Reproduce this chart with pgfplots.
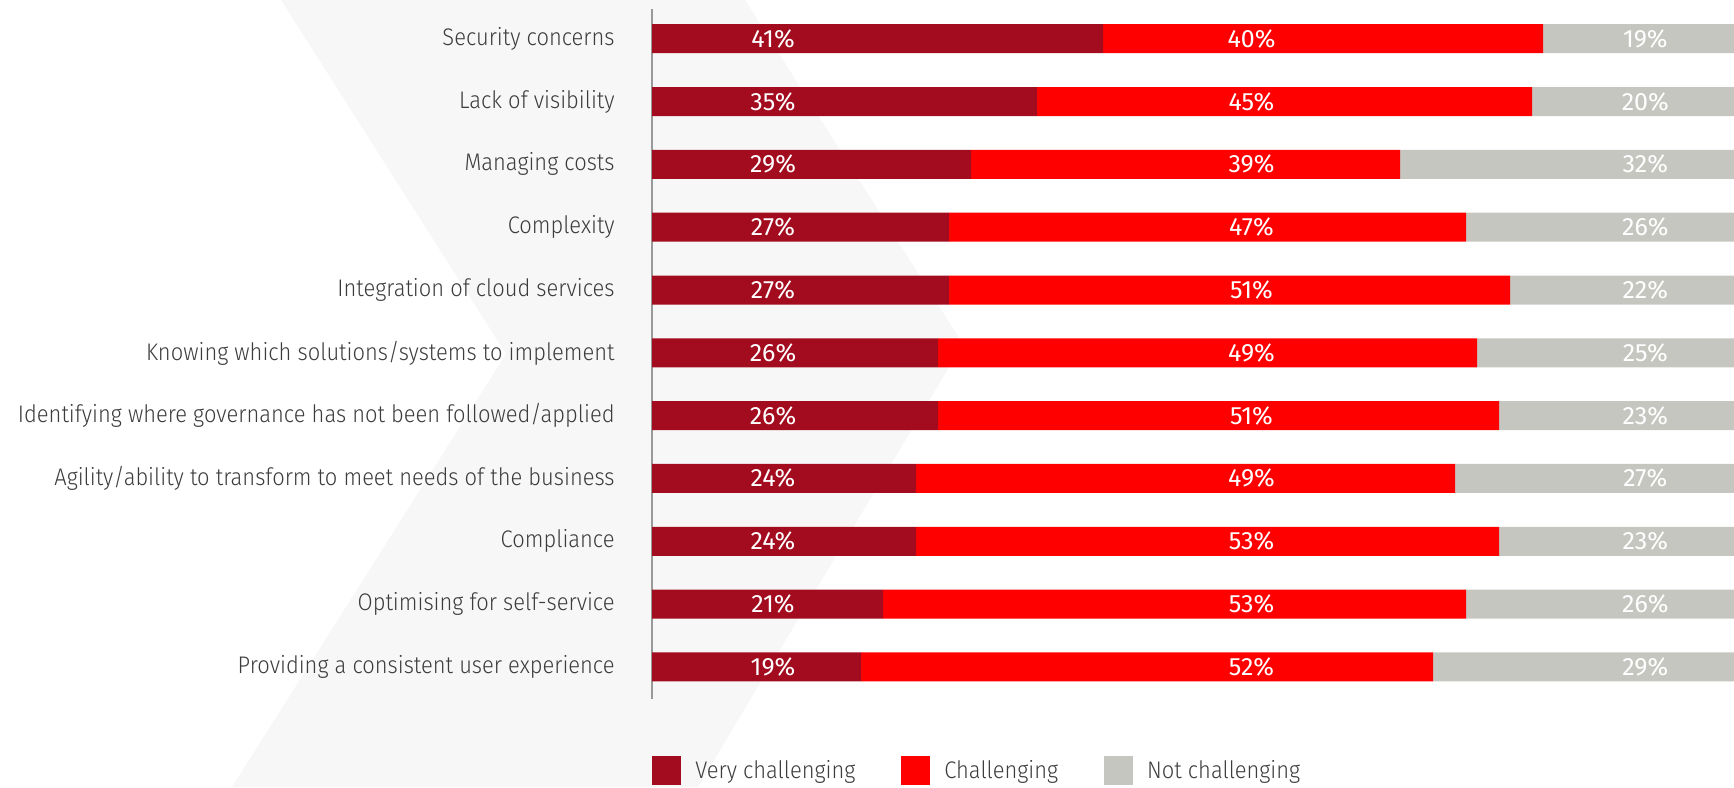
\documentclass[border=0pt]{standalone}
\usepackage{fontspec}
\IfFontExistsTF{Fira Sans Light}{\setmainfont[FakeStretch=0.913]{Fira Sans Light}}{\setmainfont[FakeStretch=0.913]{Fira Sans}}
\newfontfamily\pctfont{Fira Sans}
\usepackage{pgfplots}
\usepackage{pgfplotstable}
\pgfplotsset{compat=1.18}
\definecolor{vc}{HTML}{A20C1E}
\definecolor{ch}{HTML}{FF0000}
\definecolor{nc}{HTML}{C6C6C0}
\definecolor{bgc}{HTML}{F7F7F7}
\definecolor{lab}{HTML}{3C3C3C}

\pgfplotstableread{
y a b c
0 41 40 19
1 35 45 20
2 29 39 32
3 27 47 26
4 27 51 22
5 26 49 25
6 26 51 23
7 24 49 27
8 24 53 23
9 21 53 26
10 19 52 29
}\data

\begin{document}
\begin{tikzpicture}
\useasboundingbox (0,0) rectangle (867pt,393.5pt);
\fill[bgc] (140.5pt,393.5pt) -- (372.5pt,393.5pt) -- (481.5pt,221.5pt) -- (349pt,0pt) -- (116pt,0pt) -- (253pt,216.5pt) -- cycle;
\pgfplotsset{common/.style={at={(326pt,44pt)}, anchor=south west, width=550pt, height=345pt, scale only axis, xmin=0, xmax=100, ymin=-0.473, ymax=10.51, y dir=reverse, clip=false}}
\begin{axis}[common,
  xbar stacked, bar width=14.5pt,
  axis x line=none, axis y line*=left,
  y axis line style={draw=gray!80, line width=0.6pt},
  xtick=\empty,
  ytick={0,...,10},
  yticklabels={Security concerns, Lack of visibility, Managing costs, Complexity, Integration of cloud services, Knowing which solutions/systems to implement, Identifying where governance has not been followed/applied, Agility/ability to transform to meet needs of the business, Compliance, Optimising for self-service, Providing a consistent user experience},
  major tick length=0pt,
  yticklabel style={font=\fontsize{12}{14}\selectfont, text=lab, anchor=east, inner sep=0pt, xshift=-18.5pt},
  legend image code/.code={\fill[#1] (0pt,-7.25pt) rectangle (14.5pt,7.25pt);},
  legend style={draw=none, fill=none, inner sep=0pt, at={(0,-0.1036)}, anchor=west, legend columns=3, font=\fontsize{12}{14}\selectfont, text=lab,
    /tikz/every odd column/.append style={column sep=5pt},
    /tikz/every even column/.append style={column sep=21pt}},
  legend cell align=left,
]
\addplot[fill=vc, draw=none] table[x=a, y=y]{\data};
\addplot[fill=ch, draw=none] table[x=b, y=y]{\data};
\addplot[fill=nc, draw=none] table[x=c, y=y]{\data};
\legend{Very challenging, Challenging, Not challenging}
\end{axis}
\begin{axis}[common, hide axis,
  point meta=explicit,
  nodes near coords={\pgfmathprintnumber{\pgfplotspointmeta}\%},
  every node near coord/.append style={text=white, anchor=center, font=\pctfont\fontsize{12.5}{14}\selectfont},
  /pgf/number format/assume math mode=true,
]
\addplot[only marks, mark=*, mark size=0pt, mark options={draw=none, fill=none}] table[x expr=11.0, y=y, meta=a]{\data};
\addplot[only marks, mark=*, mark size=0pt, mark options={draw=none, fill=none}] table[x expr=54.5, y=y, meta=b]{\data};
\addplot[only marks, mark=*, mark size=0pt, mark options={draw=none, fill=none}] table[x expr=90.3, y=y, meta=c]{\data};
\end{axis}
\end{tikzpicture}
\end{document}
